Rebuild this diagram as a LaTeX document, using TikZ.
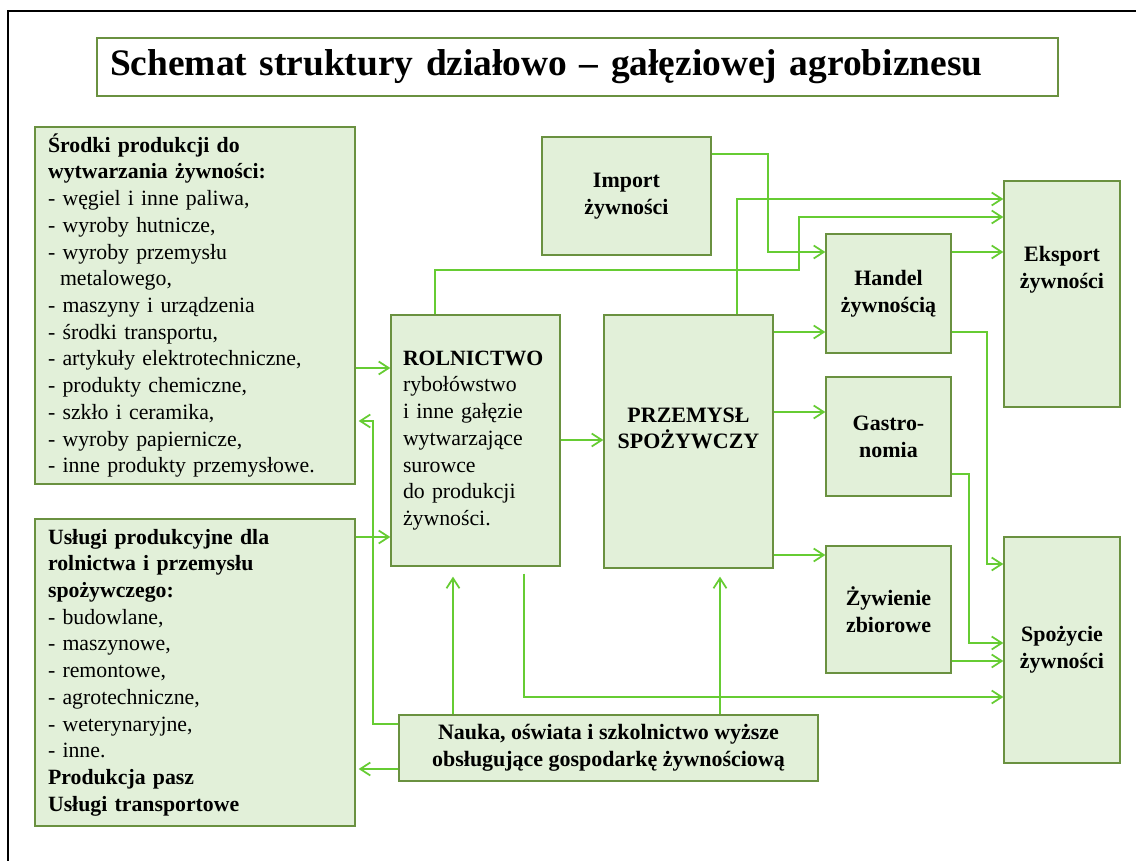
\documentclass[tikz,border=0pt]{standalone}
\usepackage{fontspec}
\setmainfont{Liberation Serif}
\usetikzlibrary{arrows.meta}
\definecolor{boxfill}{HTML}{E2F0D9}
\definecolor{boxline}{HTML}{6A9140}
\definecolor{arrgreen}{HTML}{66CC33}

\begin{document}
\begin{tikzpicture}[x=0.02cm,y=-0.02cm,
  box/.style={draw=boxline,fill=boxfill,line width=0.8pt,inner sep=0pt,align=center,font={\fontsize{12.5}{15.2}\selectfont\bfseries}},
  lbox/.style={box,align=left,font={\fontsize{12.4}{15.2}\selectfont}},
  arr/.style={draw=arrgreen,line width=1pt,-{Straight Barb[length=0.2cm,width=0.26cm]}}]
  \useasboundingbox (0,0) rectangle (1136,861);
  \draw [line width=1.2pt] (1136,11) -| (8,861);

  \node [lbox,fill=white,minimum width=19.22cm,minimum height=1.16cm,text width=18.7cm,inner xsep=0.26cm,font={\fontsize{21.3}{26}\selectfont\bfseries}] (title) at (577.5,67) {Schemat struktury działowo – gałęziowej agrobiznesu};

  \node [lbox,minimum width=6.4cm,minimum height=7.14cm,text width=5.88cm,inner xsep=0.26cm] (srodki) at (195,305.5) {\textbf{Środki produkcji do}\\ \textbf{wytwarzania żywności:}\\- węgiel i inne paliwa,\\- wyroby hutnicze,\\- wyroby przemysłu\\ \hspace*{0.24cm}metalowego,\\- maszyny i urządzenia\\- środki transportu,\\- artykuły elektrotechniczne,\\- produkty chemiczne,\\- szkło i ceramika,\\- wyroby papiernicze,\\- inne produkty przemysłowe.};
  \node [lbox,minimum width=6.4cm,minimum height=6.14cm,text width=5.88cm,inner xsep=0.26cm] (uslugi) at (195,672.5) {\textbf{Usługi produkcyjne dla}\\ \textbf{rolnictwa i przemysłu}\\ \textbf{spożywczego:}\\- budowlane,\\- maszynowe,\\- remontowe,\\- agrotechniczne,\\- weterynaryjne,\\- inne.\\ \textbf{Produkcja pasz}\\ \textbf{Usługi transportowe}};

  \node [lbox,minimum width=3.38cm,minimum height=5.02cm,text width=2.9cm,inner xsep=0.24cm] (rolnictwo) at (475.5,440.5) {\textbf{ROLNICTWO}\\rybołówstwo\\i inne gałęzie\\wytwarzające\\surowce\\do produkcji\\żywności.};
  \node [box,minimum width=3.38cm,minimum height=5.06cm] (przemysl) at (688.5,441.5) {PRZEMYSŁ\\SPOŻYWCZY\\~};
  \node [box,minimum width=3.38cm,minimum height=2.36cm] (import) at (626.5,196) {Import\\żywności};

  \node [box,minimum width=2.5cm,minimum height=2.38cm] (handel) at (888.5,293.5) {Handel\\żywnością};
  \node [box,minimum width=2.5cm,minimum height=2.38cm] (gastro) at (888.5,436.5) {Gastro-\\nomia};
  \node [box,minimum width=2.5cm,minimum height=2.54cm] (zywienie) at (888.5,609.5) {Żywienie\\zbiorowe};

  \node [box,minimum width=2.32cm,minimum height=4.52cm] (eksport) at (1062,294) {Eksport\\żywności\\~\\~};
  \node [box,minimum width=2.32cm,minimum height=4.52cm] (spozycie) at (1062,650) {Spożycie\\żywności};

  \node [box,minimum width=8.38cm,minimum height=1.32cm] (nauka) at (608.5,748) {Nauka, oświata i szkolnictwo wyższe\\obsługujące gospodarkę żywnościową};

  \draw [arr] (import.east |- 0,154) -| (768,252) -- (handel.west |- 0,252);
  \draw [arr] (przemysl.north -| 737,0) |- (eksport.west |- 0,199);
  \draw [arr] (rolnictwo.north -| 435,0) |- (799,270) |- (eksport.west |- 0,217);
  \draw [arr] (handel.east |- 0,252) -- (eksport.west |- 0,252);
  \draw [arr] (przemysl.east |- 0,332) -- (handel.west |- 0,332);
  \draw [arr] (przemysl.east |- 0,412) -- (gastro.west |- 0,412);
  \draw [arr] (przemysl.east |- 0,555) -- (zywienie.west |- 0,555);
  \draw [arr] (handel.east |- 0,332) -| (987,564) -- (spozycie.west |- 0,564);
  \draw [arr] (gastro.east |- 0,474) -| (969,643) -- (spozycie.west |- 0,643);
  \draw [arr] (zywienie.east |- 0,661) -- (spozycie.west |- 0,661);
  \draw [arr,shorten <=0.14cm] (rolnictwo.south -| 524,0) |- (spozycie.west |- 0,697);
  \draw [arr] (srodki.east |- 0,368) -- (rolnictwo.west |- 0,368);
  \draw [arr] (uslugi.east |- 0,537) -- (rolnictwo.west |- 0,537);
  \draw [arr] (rolnictwo.east |- 0,440) -- (przemysl.west |- 0,440);
  \draw [arr,shorten >=0.06cm] (nauka.west |- 0,724) -| (373,421) -- (srodki.east |- 0,421);
  \draw [arr,shorten >=0.06cm] (nauka.west |- 0,769) -- (uslugi.east |- 0,769);
  \draw [arr,shorten >=0.2cm] (nauka.north -| 453,0) -- (rolnictwo.south -| 453,0);
  \draw [arr,shorten >=0.16cm] (nauka.north -| 720,0) -- (przemysl.south -| 720,0);
\end{tikzpicture}
\end{document}
